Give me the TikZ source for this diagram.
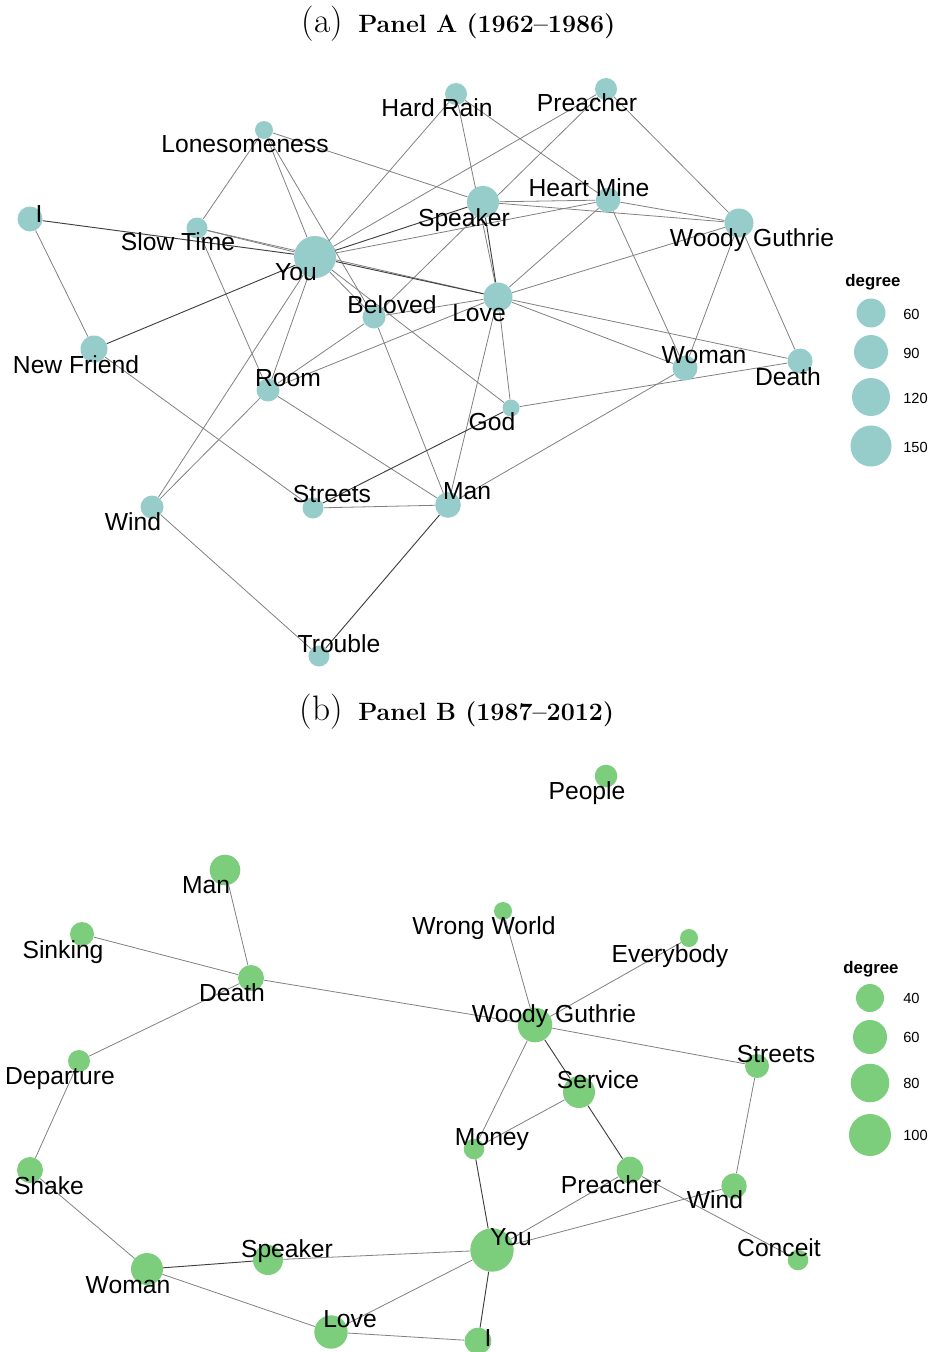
\documentclass[tikz,border=0pt]{standalone}
\usepackage{fontspec}
\newfontfamily\lblfont{Liberation Sans}
\definecolor{tealA}{RGB}{150,205,203}
\definecolor{greenB}{RGB}{124,205,124}
\pgfdeclarelayer{edges}
\pgfsetlayers{edges,main}
\begin{document}
\begin{tikzpicture}[x=0.75pt,y=-0.75pt,
    vA/.style={circle,fill=tealA,inner sep=0pt,minimum size=#1*1.5pt},
    vB/.style={circle,fill=greenB,inner sep=0pt,minimum size=#1*1.5pt},
    lbl/.style={anchor=base,inner sep=0pt,font=\lblfont\fontsize{18.5}{20}\selectfont},
    legtitle/.style={anchor=base,inner sep=0pt,font=\lblfont\bfseries\fontsize{12.6}{14}\selectfont},
    legnum/.style={anchor=base west,inner sep=0pt,font=\lblfont\fontsize{11}{12}\selectfont},
    edge/.style={black!50,line width=0.6pt},
    darkedge/.style={black!75,line width=0.7pt}]
    \useasboundingbox (0,0) rectangle (932,1352);
    % titles
    \node[anchor=base east,inner sep=0pt,font=\fontsize{26.5}{28}\selectfont] (titleA-tag) at (343,33) {(a)};
    \node[anchor=base west,inner sep=0pt,font=\bfseries\fontsize{18.75}{22}\selectfont] (titleA) at (358,33) {Panel A (1962--1986)};
    \node[anchor=base east,inner sep=0pt,font=\fontsize{26.5}{28}\selectfont] (titleB-tag) at (343,720) {(b)};
    \node[anchor=base west,inner sep=0pt,font=\bfseries\fontsize{18.75}{22}\selectfont] (titleB) at (358,720) {Panel B (1987--2012)};
    % panel A
    \node[vA=11] (hardrainA) at (456,94) {};
    \node[vA=11] (preacherA) at (606,89) {};
    \node[vA=9] (lonesomeA) at (264,130) {};
    \node[vA=12.5] (iA) at (30,219) {};
    \node[vA=10.5] (slowtimeA) at (197,228) {};
    \node[vA=21] (youA) at (315,257) {};
    \node[vA=16] (speakerA) at (483,202) {};
    \node[vA=12.3] (heartmineA) at (608,200) {};
    \node[vA=14.5] (woodyA) at (739,223) {};
    \node[vA=14.5] (loveA) at (498,297) {};
    \node[vA=11.5] (belovedA) at (374,317) {};
    \node[vA=13.5] (friendA) at (94,349) {};
    \node[vA=11.5] (roomA) at (268,390) {};
    \node[vA=12.5] (womanA) at (685,368) {};
    \node[vA=12.5] (deathA) at (800,361) {};
    \node[vA=8.5] (godA) at (511,408) {};
    \node[vA=10.5] (streetsA) at (313,508) {};
    \node[vA=12.8] (manA) at (448,505) {};
    \node[vA=11.5] (windA) at (152,507) {};
    \node[vA=10.5] (troubleA) at (319,656) {};
    \begin{pgfonlayer}{edges}
    \foreach \a/\b in {iA/friendA,slowtimeA/youA,slowtimeA/loveA,lonesomeA/slowtimeA,
        lonesomeA/speakerA,lonesomeA/youA,lonesomeA/belovedA,hardrainA/youA,hardrainA/loveA,
        hardrainA/heartmineA,preacherA/youA,preacherA/belovedA,preacherA/woodyA,youA/heartmineA,
        speakerA/heartmineA,speakerA/woodyA,heartmineA/woodyA,heartmineA/loveA,heartmineA/womanA,
        woodyA/loveA,woodyA/womanA,woodyA/deathA,loveA/womanA,loveA/deathA,loveA/belovedA,
        loveA/roomA,loveA/godA,loveA/manA,youA/belovedA,youA/godA,youA/roomA,youA/windA,
        belovedA/roomA,belovedA/manA,slowtimeA/roomA,roomA/manA,roomA/windA,windA/troubleA,
        streetsA/manA,streetsA/friendA,manA/womanA,godA/deathA}
        \draw[edge] (\a) -- (\b);
    \foreach \a/\b in {iA/youA,friendA/youA,youA/speakerA,youA/loveA,speakerA/loveA,
        troubleA/manA,streetsA/godA}
        \draw[darkedge] (\a) -- (\b);
    \end{pgfonlayer}
    \node[lbl] (hardrainA-l) at (437,117) {Hard Rain};
    \node[lbl] (preacherA-l) at (587,112) {Preacher};
    \node[lbl] (lonesomeA-l) at (245,153) {Lonesomeness};
    \node[lbl] (iA-l) at (39,222) {I};
    \node[lbl] (slowtimeA-l) at (178,250) {Slow Time};
    \node[lbl] (youA-l) at (296,280) {You};
    \node[lbl] (speakerA-l) at (464,226) {Speaker};
    \node[lbl] (heartmineA-l) at (589,196) {Heart Mine};
    \node[lbl] (woodyA-l) at (752,246) {Woody Guthrie};
    \node[lbl] (loveA-l) at (479,321) {Love};
    \node[lbl] (belovedA-l) at (392,313) {Beloved};
    \node[lbl] (friendA-l) at (76,373) {New Friend};
    \node[lbl] (roomA-l) at (288,386) {Room};
    \node[lbl] (womanA-l) at (704,363) {Woman};
    \node[lbl] (deathA-l) at (788,385) {Death};
    \node[lbl] (godA-l) at (492,430) {God};
    \node[lbl] (streetsA-l) at (332,502) {Streets};
    \node[lbl] (manA-l) at (467,499) {Man};
    \node[lbl] (windA-l) at (133,530) {Wind};
    \node[lbl] (troubleA-l) at (339,652) {Trouble};
    % legend A
    \node[legtitle] (legA) at (873,286) {degree};
    \foreach \y/\r/\v [count=\i] in {313/14.5/60,352/17/90,397/19/120,446/20.5/150}{
        \node[vA=\r] (legA-\i) at (871,\y) {};
        \node[legnum] (legA-\i-l) at (903,\y+6) {\v};
    }
    % panel B
    \node[vB=11.3] (peopleB) at (606,776) {};
    \node[vB=15.3] (manB) at (225,870) {};
    \node[vB=12] (sinkingB) at (82,934) {};
    \node[vB=9] (wrongB) at (503,911) {};
    \node[vB=9] (everybodyB) at (689,938) {};
    \node[vB=13] (deathB) at (251,978) {};
    \node[vB=17.3] (woodyB) at (535,1025) {};
    \node[vB=11] (departureB) at (79,1061) {};
    \node[vB=12] (streetsB) at (757,1066) {};
    \node[vB=16] (serviceB) at (579,1092) {};
    \node[vB=10.3] (moneyB) at (474,1149) {};
    \node[vB=13] (shakeB) at (30,1170) {};
    \node[vB=13.3] (preacherB) at (630,1170) {};
    \node[vB=12.7] (windB) at (734,1186) {};
    \node[vB=21.7] (youB) at (492,1250) {};
    \node[vB=10.3] (conceitB) at (798,1260) {};
    \node[vB=15] (speakerB) at (268,1260) {};
    \node[vB=16] (womanB) at (147,1269) {};
    \node[vB=16.7] (loveB) at (331,1332) {};
    \node[vB=13.3] (iB) at (478,1341) {};
    \begin{pgfonlayer}{edges}
    \foreach \a/\b in {manB/deathB,sinkingB/deathB,deathB/woodyB,deathB/departureB,
        departureB/shakeB,shakeB/womanB,womanB/loveB,speakerB/youB,loveB/youB,loveB/iB,
        youB/preacherB,youB/windB,moneyB/serviceB,moneyB/woodyB,preacherB/conceitB,
        windB/streetsB,streetsB/woodyB,woodyB/wrongB,woodyB/everybodyB}
        \draw[edge] (\a) -- (\b);
    \foreach \a/\b in {womanB/speakerB,serviceB/woodyB,serviceB/preacherB,youB/moneyB,youB/iB}
        \draw[darkedge] (\a) -- (\b);
    \end{pgfonlayer}
    \node[lbl] (peopleB-l) at (587,799) {People};
    \node[lbl] (manB-l) at (206,893) {Man};
    \node[lbl] (sinkingB-l) at (63,958) {Sinking};
    \node[lbl] (wrongB-l) at (484,934) {Wrong World};
    \node[lbl] (everybodyB-l) at (670,962) {Everybody};
    \node[lbl] (deathB-l) at (232,1001) {Death};
    \node[lbl] (woodyB-l) at (554,1022) {Woody Guthrie};
    \node[lbl] (departureB-l) at (60,1084) {Departure};
    \node[lbl] (streetsB-l) at (776,1062) {Streets};
    \node[lbl] (serviceB-l) at (598,1088) {Service};
    \node[lbl] (moneyB-l) at (492,1145) {Money};
    \node[lbl] (shakeB-l) at (49,1194) {Shake};
    \node[lbl] (preacherB-l) at (611,1193) {Preacher};
    \node[lbl] (windB-l) at (715,1208) {Wind};
    \node[lbl] (youB-l) at (511,1245) {You};
    \node[lbl] (conceitB-l) at (779,1256) {Conceit};
    \node[lbl] (speakerB-l) at (287,1257) {Speaker};
    \node[lbl] (womanB-l) at (128,1293) {Woman};
    \node[lbl] (loveB-l) at (350,1327) {Love};
    \node[lbl] (iB-l) at (488,1346) {I};
    % legend B
    \node[legtitle] (legB) at (871,973) {degree};
    \foreach \y/\r/\v [count=\i] in {998/14/40,1037/17/60,1083/19.3/80,1135/21/100}{
        \node[vB=\r] (legB-\i) at (870,\y) {};
        \node[legnum] (legB-\i-l) at (903,\y+5) {\v};
    }
\end{tikzpicture}
\end{document}
